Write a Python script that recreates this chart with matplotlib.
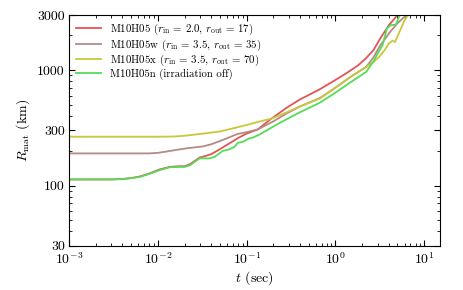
import matplotlib
matplotlib.use("Agg")
import matplotlib.pyplot as plt
from matplotlib.ticker import FixedLocator, NullFormatter, LogLocator

plt.rcParams['font.family'] = 'serif'
plt.rcParams['font.serif'] = ['cmr10']
plt.rcParams['mathtext.fontset'] = 'cm'
plt.rcParams['axes.formatter.use_mathtext'] = True

# data
red_t = [0.001, 0.002, 0.003, 0.004, 0.005, 0.0063, 0.008, 0.0105, 0.0136, 0.017, 0.0201,
         0.0229, 0.026, 0.0296, 0.035, 0.0404, 0.0497, 0.06, 0.08, 0.10, 0.133, 0.19, 0.28,
         0.395, 0.66, 0.925, 1.3, 1.8, 2.23, 2.7, 3.12, 4.0, 5.0, 5.6]
red_R = [113, 113, 113, 114, 116, 120, 127, 138, 145, 147, 147,
         153, 163, 175, 181, 188, 206, 225, 258, 282, 306, 380, 470,
         555, 680, 793, 930, 1100, 1277, 1500, 1826, 2450, 3000, 3500]

brown_t = [0.001, 0.005, 0.008, 0.010, 0.013, 0.017, 0.021, 0.027, 0.032, 0.04, 0.055,
           0.079, 0.1, 0.133, 0.2, 0.28, 0.395, 0.66, 0.925, 1.5, 2.23, 2.7, 3.12, 4.1,
           5.0, 6.3, 7.0]
brown_R = [190, 190, 190, 192, 198, 205, 210, 215, 218, 228, 250,
           280, 290, 306, 360, 420, 483, 570, 676, 880, 1069, 1300, 1589, 2130,
           2550, 3000, 3500]

yellow_t = [0.001, 0.005, 0.01, 0.015, 0.02, 0.03, 0.05, 0.079, 0.1, 0.14, 0.191, 0.28,
            0.395, 0.66, 0.925, 1.5, 2.23, 2.7, 3.12, 3.6, 4.0, 4.4, 4.7, 5.2, 6.0, 6.6, 7.2]
yellow_R = [265, 265, 265, 266, 270, 280, 294, 320, 335, 359, 380, 430,
            483, 565, 676, 880, 1069, 1180, 1303, 1500, 1700, 1800, 1750, 2100, 2700, 3000, 3500]

green_t = [0.001, 0.002, 0.003, 0.004, 0.005, 0.0063, 0.008, 0.0105, 0.0136, 0.017, 0.020,
           0.023, 0.0296, 0.038, 0.0435, 0.054, 0.064, 0.072, 0.080, 0.092, 0.105, 0.12,
           0.14, 0.2, 0.3, 0.395, 0.66, 0.925, 1.5, 2.23, 2.7, 3.0, 3.4, 3.8, 4.2, 4.8,
           5.3, 5.8]
green_R = [113, 113, 113, 114, 116, 119, 126, 136, 144, 145, 145,
           150, 172, 172, 177, 200, 206, 215, 235, 240, 255, 262,
           277, 325, 385, 430, 520, 613, 790, 968, 1200, 1400, 1650, 2300, 2450, 2480,
           3000, 3500]

labels = [r'M10H05 ($r_{\rm in}$ = 2.0, $r_{\rm out}$ = 17)',
          r'M10H05w ($r_{\rm in}$ = 3.5, $r_{\rm out}$ = 35)',
          r'M10H05x ($r_{\rm in}$ = 3.5, $r_{\rm out}$ = 70)',
          r'M10H05n (irradiation off)']
colors = ['#e05555', '#b48a84', '#c8c83a', '#55dd55']

yticks = [30, 100, 300, 1000, 3000]
yticklabels = ['30', '100', '300', '1000', '3000']

fig = plt.figure(figsize=(4.63, 2.9), dpi=100)
ax = fig.add_axes([0.149, 0.152, 0.801, 0.796])

for t, R, c, lab in zip([red_t, brown_t, yellow_t, green_t],
                        [red_R, brown_R, yellow_R, green_R], colors, labels):
    ax.plot(t, R, color=c, lw=1.3, label=lab)

ax.set_xscale('log')
ax.set_yscale('log')
ax.set_xlim(1e-3, 15)
ax.set_ylim(30, 3000)
ax.yaxis.set_major_locator(FixedLocator(yticks))
ax.set_yticklabels(yticklabels)
ax.yaxis.set_minor_locator(LogLocator(base=10, subs=range(2, 10)))
ax.yaxis.set_minor_formatter(NullFormatter())
ax.xaxis.set_major_locator(LogLocator(base=10, numticks=10))
ax.xaxis.set_minor_locator(LogLocator(base=10, subs=range(2, 10), numticks=20))
ax.tick_params(which='both', direction='in', top=True, right=True, labelsize=10)
ax.tick_params(which='major', length=4)
ax.tick_params(which='minor', length=2)
ax.tick_params(axis='y', pad=3)

ax.set_xlabel(r'$t$ (sec)', fontsize=10, labelpad=2)
ax.set_ylabel(r'$R_{\rm mat}$ (km)', fontsize=10)

ax.legend(loc='upper left', frameon=False, fontsize=7.8, handlelength=2.3,
          labelspacing=0.02, borderaxespad=0.25, handletextpad=0.8)

fig.savefig('out.png', dpi=100)
